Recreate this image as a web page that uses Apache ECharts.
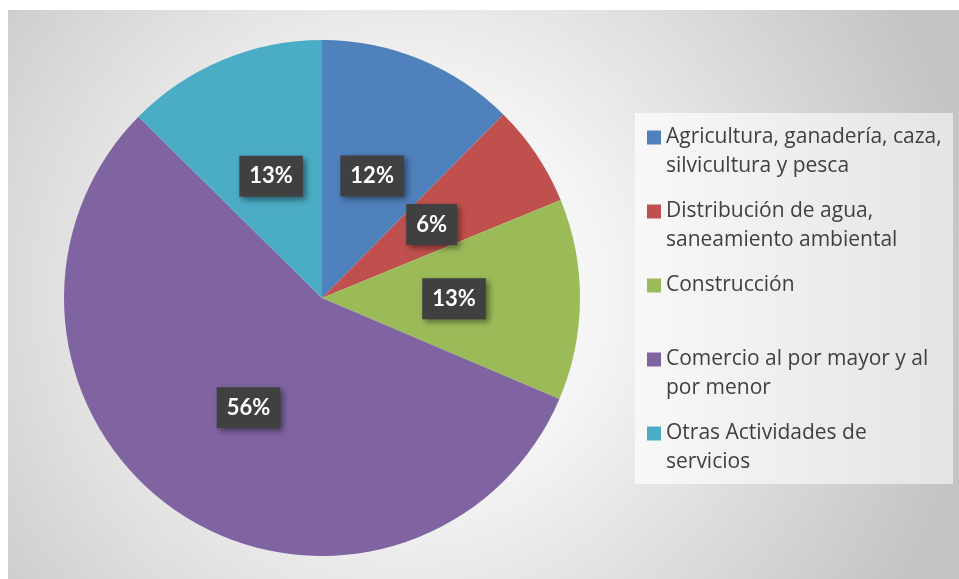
<!DOCTYPE html>
<html lang="es">
<head>
    <meta charset="UTF-8">
    <title>sectores</title>
    <script src="https://cdn.jsdelivr.net/npm/echarts@6/dist/echarts.min.js"></script>
    <style>
        body { margin: 0; background: #ffffff; }
    </style>
</head>
<body>
<div id="chart_pie" style="width: 959px;height: 579px"></div>
<script>
    var sectores = ['Agricultura, ganadería, caza, silvicultura y pesca',
        'Distribución de agua, saneamiento ambiental',
        'Construcción',
        'Comercio al por mayor y al por menor',
        'Otras Actividades de servicios'];
    var valores = [12.4, 6.4, 12.6, 56.0, 12.6];
    // lineas de la leyenda (la primera linea vacia centra el icono en la primera linea)
    var lineasLeyenda = [
        ' \nAgricultura, ganadería, caza,\nsilvicultura y pesca',
        ' \nDistribución de agua,\nsaneamiento ambiental',
        ' \nConstrucción\n ',
        ' \nComercio al por mayor y al\npor menor',
        ' \nOtras Actividades de\nservicios'
    ];
    var colores = ['#4f81bd', '#c0504d', '#9bbb59', '#8064a2', '#4bacc6'];

    function pieChart() {
        var datos = [];
        for (var i = 0; i < sectores.length; i++) {
            datos.push({name: sectores[i], value: valores[i]});
        }
        var option = {
            animation: false,
            color: colores,
            graphic: [
                {
                    type: 'rect',
                    z: -10,
                    shape: {x: 8, y: 10, width: 951, height: 569},
                    style: {
                        fill: {
                            type: 'radial', x: 0.42, y: 0.5, r: 1,
                            colorStops: [
                                {offset: 0, color: '#ffffff'},
                                {offset: 0.35, color: '#f4f4f4'},
                                {offset: 1, color: '#c4c4c4'}
                            ]
                        }
                    }
                },
                {
                    type: 'rect',
                    z: -9,
                    shape: {x: 635, y: 113, width: 318, height: 371},
                    style: {
                        fill: {
                            type: 'linear', x: 0, y: 0, x2: 1, y2: 0,
                            colorStops: [
                                {offset: 0, color: '#f8f8f8'},
                                {offset: 1, color: '#e4e4e4'}
                            ]
                        }
                    }
                }
            ],
            legend: {
                orient: 'vertical',
                left: 647,
                top: 94,
                padding: 0,
                icon: 'rect',
                itemWidth: 14,
                itemHeight: 14,
                itemGap: -13,
                selectedMode: false,
                formatter: function (name) {
                    return lineasLeyenda[sectores.indexOf(name)];
                },
                textStyle: {
                    color: '#404040',
                    fontFamily: 'Open Sans',
                    fontSize: 21,
                    lineHeight: 29
                },
                data: sectores
            },
            series: [
                {
                    type: 'pie',
                    center: [322, 298],
                    radius: 258,
                    startAngle: 90,
                    clockwise: true,
                    silent: true,
                    itemStyle: {borderWidth: 0},
                    label: {
                        position: 'inside',
                        formatter: function (p) {
                            return Math.round(p.value) + '%';
                        },
                        color: '#ffffff',
                        fontFamily: 'Lato',
                        fontWeight: 'bold',
                        fontSize: 22,
                        lineHeight: 23,
                        backgroundColor: '#404040',
                        padding: [9, 10, 9, 10],
                        shadowColor: 'rgba(0,0,0,0.45)',
                        shadowBlur: 6,
                        shadowOffsetX: 3,
                        shadowOffsetY: 3
                    },
                    labelLine: {show: false},
                    data: datos
                }
            ]
        };

        var chart_pie = echarts.init(document.getElementById('chart_pie'));
        chart_pie.setOption(option);
    }
    pieChart();
</script>
</body>
</html>
